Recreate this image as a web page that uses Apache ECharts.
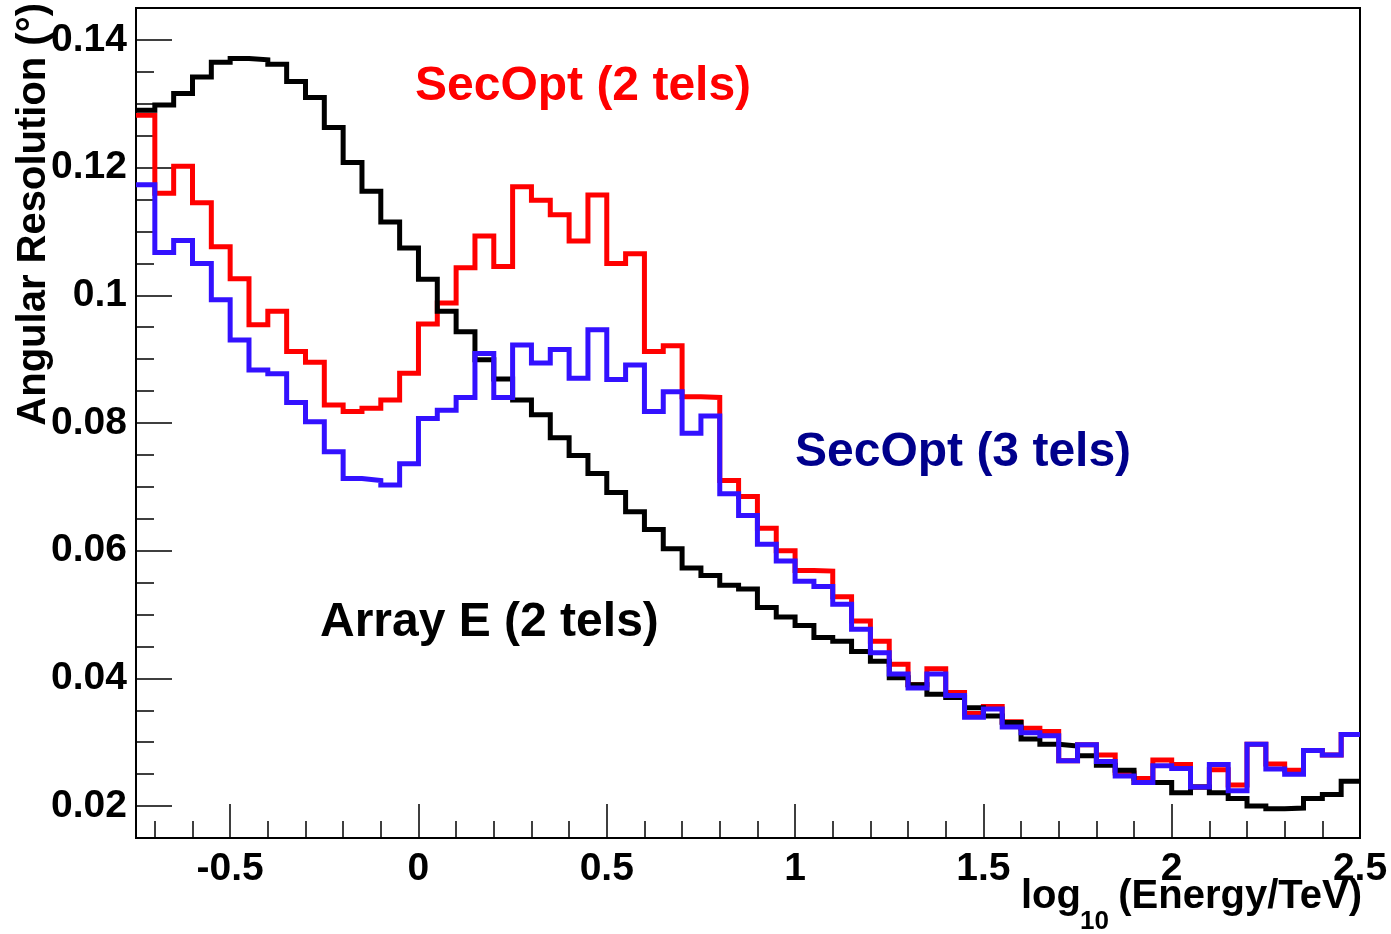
<!DOCTYPE html>
<html>
<head>
<meta charset="utf-8">
<script src="https://cdn.jsdelivr.net/npm/echarts@6/dist/echarts.min.js"></script>
<style>
  html, body { margin: 0; padding: 0; background: #fff; }
  #con { width: 1391px; height: 934px; }
</style>
</head>
<body>
<div id="con"></div>
<script>
// histogram bins: 65 bins of 0.05 in log10(E/TeV), from -0.75 to 2.5
var binStart = -0.75;
var binWidth = 0.05;

// Array E (2 tels)
var arrayE = [
    0.1290, 0.1298, 0.1316, 0.1342, 0.1365, 0.1371, 0.1369, 0.1362, 0.1335, 0.1310,
    0.1263, 0.1208, 0.1163, 0.1115, 0.1074, 0.1025, 0.0975, 0.0943, 0.0899, 0.0869,
    0.0836, 0.0813, 0.0777, 0.0749, 0.0721, 0.0691, 0.0661, 0.0633, 0.0603, 0.0573,
    0.0561, 0.0546, 0.0540, 0.0511, 0.0496, 0.0483, 0.0464, 0.0458, 0.0442, 0.0427,
    0.0401, 0.0390, 0.0375, 0.0370, 0.0354, 0.0341, 0.0331, 0.0305, 0.0297, 0.0294,
    0.0279, 0.0264, 0.0256, 0.0237, 0.0237, 0.0221, 0.0230, 0.0221, 0.0212, 0.0200,
    0.0196, 0.0197, 0.0212, 0.0218, 0.0239
];

// SecOpt (2 tels)
var secOpt2 = [
    0.1282, 0.1160, 0.1202, 0.1145, 0.1076, 0.1026, 0.0954, 0.0975, 0.0912, 0.0895,
    0.0828, 0.0818, 0.0823, 0.0836, 0.0878, 0.0955, 0.0988, 0.1043, 0.1093, 0.1045,
    0.1170, 0.1149, 0.1126, 0.1085, 0.1157, 0.1050, 0.1065, 0.0912, 0.0921, 0.0841,
    0.0840, 0.0710, 0.0685, 0.0635, 0.0600, 0.0569, 0.0568, 0.0528, 0.0490, 0.0458,
    0.0422, 0.0390, 0.0415, 0.0378, 0.0345, 0.0356, 0.0332, 0.0322, 0.0317, 0.0271,
    0.0296, 0.0280, 0.0252, 0.0243, 0.0272, 0.0265, 0.0230, 0.0257, 0.0233, 0.0297,
    0.0266, 0.0256, 0.0287, 0.0280, 0.0312
];

// SecOpt (3 tels)
var secOpt3 = [
    0.1173, 0.1067, 0.1086, 0.1050, 0.0993, 0.0930, 0.0883, 0.0877, 0.0832, 0.0802,
    0.0755, 0.0713, 0.0710, 0.0703, 0.0736, 0.0807, 0.0820, 0.0840, 0.0909, 0.0840,
    0.0922, 0.0894, 0.0915, 0.0870, 0.0946, 0.0868, 0.0891, 0.0818, 0.0849, 0.0784,
    0.0811, 0.0689, 0.0655, 0.0610, 0.0584, 0.0552, 0.0544, 0.0516, 0.0477, 0.0440,
    0.0407, 0.0385, 0.0407, 0.0373, 0.0339, 0.0352, 0.0324, 0.0315, 0.0310, 0.0271,
    0.0296, 0.0270, 0.0247, 0.0237, 0.0263, 0.0259, 0.0230, 0.0265, 0.0224, 0.0297,
    0.0258, 0.0250, 0.0287, 0.0280, 0.0312
];

// tick labels / tick positions
var xMajor = [-0.5, 0, 0.5, 1, 1.5, 2, 2.5];
var xMinor = [-0.7, -0.6, -0.4, -0.3, -0.2, -0.1, 0.1, 0.2, 0.3, 0.4, 0.6, 0.7, 0.8, 0.9,
              1.1, 1.2, 1.3, 1.4, 1.6, 1.7, 1.8, 1.9, 2.1, 2.2, 2.3, 2.4];
var yMajor = [0.02, 0.04, 0.06, 0.08, 0.1, 0.12, 0.14];
var yMinor = [0.015, 0.025, 0.03, 0.035, 0.045, 0.05, 0.055, 0.065, 0.07, 0.075,
              0.085, 0.09, 0.095, 0.105, 0.11, 0.115, 0.125, 0.13, 0.135, 0.145];

var FONT = '"Liberation Sans", Arial, Helvetica, sans-serif';

// histogram -> step line: one point per left bin edge, plus closing point at right edge
var toSteps = function(vals) {
    var pts = [];
    for (var i = 0; i < vals.length; i++) {
        pts.push([+(binStart + i * binWidth).toFixed(2), vals[i]]);
    }
    pts.push([+(binStart + vals.length * binWidth).toFixed(2), vals[vals.length - 1]]);
    return pts;
};

var histo = function(name, vals, color, z) {
    return {
        name: name,
        type: 'line',
        step: 'end',
        symbol: 'none',
        z: z,
        xAxisIndex: 0,
        yAxisIndex: 0,
        lineStyle: { color: color, width: 5, join: 'miter', cap: 'butt' },
        data: toSteps(vals)
    };
};

var label = function(text, x, y, color, size, align) {
    return {
        type: 'text', x: x, y: y,
        style: { text: text, align: align || 'left', verticalAlign: 'middle',
                 fill: color, font: 'bold ' + size + 'px ' + FONT }
    };
};

var myChart = echarts.init(document.getElementById('con'), null, { renderer: 'canvas' });

var option = {
    animation: false,
    backgroundColor: '#fff',
    grid: {
        left: 136, right: 31, top: 8, bottom: 96,
        show: true, borderColor: '#000', borderWidth: 2,
        containLabel: false,
        outerBoundsMode: 'none'
    },
    xAxis: [
        {
            type: 'value', min: -0.75, max: 2.5, position: 'bottom',
            axisLine: { show: true, onZero: false, lineStyle: { color: '#000', width: 2 } },
            axisTick: { show: true, inside: true, length: 34, customValues: xMajor,
                        lineStyle: { color: '#000', width: 1.5 } },
            axisLabel: { show: true, customValues: xMajor, margin: 12,
                         color: '#000', fontSize: 39, fontWeight: 'bold', fontFamily: FONT },
            splitLine: { show: false }
        },
        {
            type: 'value', min: -0.75, max: 2.5, position: 'bottom',
            axisLine: { show: false, onZero: false },
            axisTick: { show: true, inside: true, length: 17, customValues: xMinor,
                        lineStyle: { color: '#000', width: 1.5 } },
            axisLabel: { show: false },
            splitLine: { show: false }
        }
    ],
    yAxis: [
        {
            type: 'value', min: 0.015, max: 0.145, position: 'left',
            axisLine: { show: true, onZero: false, lineStyle: { color: '#000', width: 2 } },
            axisTick: { show: true, inside: true, length: 36, customValues: yMajor,
                        lineStyle: { color: '#000', width: 1.5 } },
            axisLabel: { show: true, customValues: yMajor, margin: 9,
                         color: '#000', fontSize: 39, fontWeight: 'bold', fontFamily: FONT },
            splitLine: { show: false }
        },
        {
            type: 'value', min: 0.015, max: 0.145, position: 'left',
            axisLine: { show: false, onZero: false },
            axisTick: { show: true, inside: true, length: 18, customValues: yMinor,
                        lineStyle: { color: '#000', width: 1.5 } },
            axisLabel: { show: false },
            splitLine: { show: false }
        }
    ],
    series: [
        histo('SecOpt (2 tels)', secOpt2, '#ff0000', 2),
        histo('Array E (2 tels)', arrayE, '#000000', 3),
        histo('SecOpt (3 tels)', secOpt3, '#3311ff', 4)
    ],
    graphic: [
        {
            type: 'text', x: 34, y: 3, rotation: Math.PI / 2,
            style: { text: 'Angular Resolution (°)', align: 'right', verticalAlign: 'middle',
                     fill: '#000', font: 'bold 40px ' + FONT }
        },
        // x-axis title: log_10 (Energy/TeV)
        label('log', 1021, 897, '#000', 40, 'left'),
        label('10', 1080, 922, '#000', 26, 'left'),
        label('(Energy/TeV)', 1362, 897, '#000', 40, 'right'),
        // series annotations
        label('SecOpt (2 tels)', 415, 87, '#ff0000', 48),
        label('SecOpt (3 tels)', 795, 453, '#00008c', 48),
        label('Array E (2 tels)', 320, 623, '#000', 48)
    ]
};
myChart.setOption(option);
</script>
</body>
</html>
